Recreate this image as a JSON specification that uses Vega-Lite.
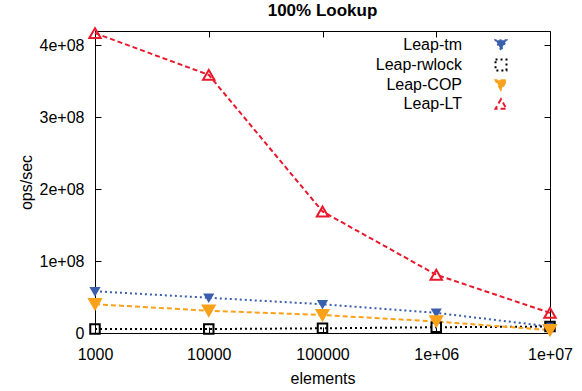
{
  "$schema": "https://vega.github.io/schema/vega-lite/v6.json",
  "width": 455,
  "height": 302,
  "autosize": "none",
  "padding": {"left": 95, "top": 31, "right": 32, "bottom": 58},
  "title": {"text": "100% Lookup", "fontSize": 17, "fontWeight": "bold", "font": "Liberation Sans", "offset": 4, "anchor": "middle", "color": "black"},
  "config": {
    "view": {"stroke": "black", "strokeWidth": 1},
    "font": "Liberation Sans",
    "axis": {"grid": false, "domainColor": "black", "tickColor": "black", "tickSize": -6, "labelColor": "black", "titleColor": "black", "labelFontSize": 16, "titleFontSize": 16, "titleFontWeight": "normal", "labelFont": "Liberation Sans", "titleFont": "Liberation Sans"}
  },
  "resolve": {"axis": {"x": "independent", "y": "independent"}},
  "data": {"values": [
    {"elements": 1000, "ops": 58000000, "series": "Leap-tm"},
    {"elements": 10000, "ops": 49000000, "series": "Leap-tm"},
    {"elements": 100000, "ops": 40000000, "series": "Leap-tm"},
    {"elements": 1000000, "ops": 28000000, "series": "Leap-tm"},
    {"elements": 10000000, "ops": 9000000, "series": "Leap-tm"},
    {"elements": 1000, "ops": 5500000, "series": "Leap-rwlock"},
    {"elements": 10000, "ops": 5500000, "series": "Leap-rwlock"},
    {"elements": 100000, "ops": 6500000, "series": "Leap-rwlock"},
    {"elements": 1000000, "ops": 8000000, "series": "Leap-rwlock"},
    {"elements": 10000000, "ops": 9000000, "series": "Leap-rwlock"},
    {"elements": 1000, "ops": 40000000, "series": "Leap-COP"},
    {"elements": 10000, "ops": 31000000, "series": "Leap-COP"},
    {"elements": 100000, "ops": 25000000, "series": "Leap-COP"},
    {"elements": 1000000, "ops": 16000000, "series": "Leap-COP"},
    {"elements": 10000000, "ops": 4000000, "series": "Leap-COP"},
    {"elements": 1000, "ops": 417000000, "series": "Leap-LT"},
    {"elements": 10000, "ops": 359000000, "series": "Leap-LT"},
    {"elements": 100000, "ops": 169000000, "series": "Leap-LT"},
    {"elements": 1000000, "ops": 81000000, "series": "Leap-LT"},
    {"elements": 10000000, "ops": 28000000, "series": "Leap-LT"}
  ]},
  "layer": [
    {
      "mark": {"type": "line", "strokeWidth": 2},
      "encoding": {
        "x": {"field": "elements", "type": "quantitative", "title": "elements",
          "scale": {"type": "log", "domain": [1000, 10000000], "nice": false},
          "axis": {"values": [1000, 10000, 100000, 1000000, 10000000], "labelPadding": 19, "titlePadding": 8,
            "labelExpr": "datum.value < 1000000 ? format(datum.value, 'd') : '1e+0' + round(log(datum.value)/LN10)",
            "labelFlush": false}},
        "y": {"field": "ops", "type": "quantitative", "title": "ops/sec",
          "scale": {"domain": [0, 420000000], "nice": false, "zero": true},
          "axis": {"values": [0, 100000000, 200000000, 300000000, 400000000], "labelPadding": 17, "titlePadding": 5,
            "labelExpr": "datum.value == 0 ? '0' : format(datum.value/100000000, 'd') + 'e+08'"}},
        "color": {"field": "series", "type": "nominal", "title": null,
          "scale": {"domain": ["Leap-tm", "Leap-rwlock", "Leap-COP", "Leap-LT"], "range": ["#3a5fad", "#000000", "#f9a11b", "#e8192c"]}},
        "strokeDash": {"field": "series", "type": "nominal", "legend": null,
          "scale": {"domain": ["Leap-tm", "Leap-rwlock", "Leap-COP", "Leap-LT"], "range": [[2, 3], [2, 3], [5, 3], [5, 3]]}}
      }
    },
    {
      "encoding": {
        "x": {"field": "elements", "type": "quantitative",
          "axis": {"orient": "top", "values": [1000, 10000, 100000, 1000000, 10000000], "labels": false, "domain": false, "title": null}},
        "y": {"field": "ops", "type": "quantitative",
          "axis": {"orient": "right", "values": [0, 100000000, 200000000, 300000000, 400000000], "labels": false, "domain": false, "title": null}},
        "color": {"field": "series", "type": "nominal", "title": null,
          "legend": {"orient": "none", "legendX": 398, "legendY": 6, "labelAlign": "right", "labelOffset": -47, "labelFontSize": 16, "labelColor": "black", "rowPadding": 1, "symbolSize": 120, "symbolStrokeWidth": 2}},
        "fill": {"field": "series", "type": "nominal", "title": null,
          "scale": {"domain": ["Leap-tm", "Leap-rwlock", "Leap-COP", "Leap-LT"], "range": ["#3a5fad", "transparent", "#f9a11b", "transparent"]}},
        "shape": {"field": "series", "type": "nominal", "title": null,
          "scale": {"domain": ["Leap-tm", "Leap-rwlock", "Leap-COP", "Leap-LT"], "range": ["triangle-down", "square", "triangle-down", "triangle-up"]}}
      },
      "layer": [
        {"transform": [{"filter": "datum.series == 'Leap-tm'"}], "mark": {"type": "point", "filled": false, "strokeWidth": 2, "opacity": 1, "size": 60}},
        {"transform": [{"filter": "datum.series == 'Leap-rwlock'"}], "mark": {"type": "point", "filled": false, "strokeWidth": 2, "opacity": 1, "size": 90}},
        {"transform": [{"filter": "datum.series == 'Leap-COP'"}], "mark": {"type": "point", "filled": false, "strokeWidth": 2, "opacity": 1, "size": 140}},
        {"transform": [{"filter": "datum.series == 'Leap-LT'"}], "mark": {"type": "point", "filled": false, "strokeWidth": 2, "opacity": 1, "size": 130}}
      ]
    }
  ]
}
